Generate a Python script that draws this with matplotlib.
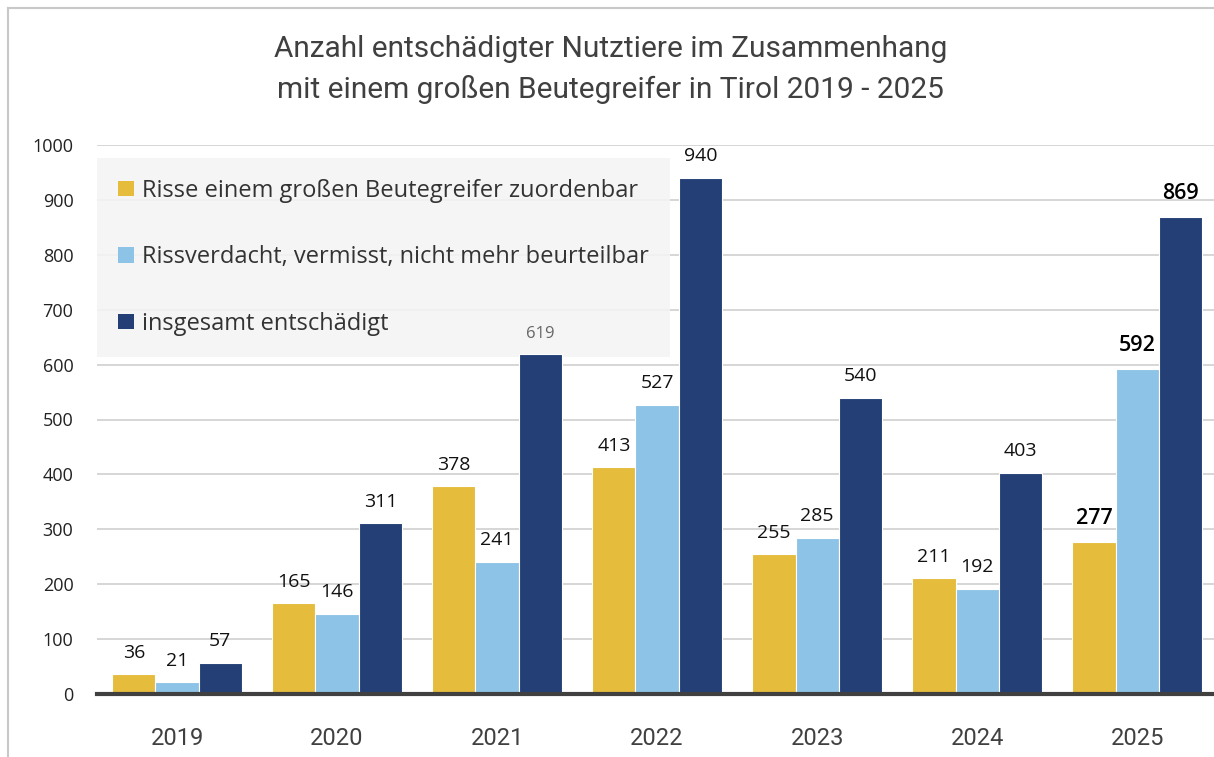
import matplotlib.pyplot as plt
import numpy as np
from matplotlib.patches import Patch

years = ['2019', '2020', '2021', '2022', '2023', '2024', '2025']
zuordenbar = [36, 165, 378, 413, 255, 211, 277]
verdacht = [21, 146, 241, 527, 285, 192, 592]
gesamt = [57, 311, 619, 940, 540, 403, 869]
series_names = ['Risse einem großen Beutegreifer zuordenbar',
                'Rissverdacht, vermisst, nicht mehr beurteilbar',
                'insgesamt entschädigt']
colors = ['#E5BC3C', '#8DC3E6', '#243F76']

plt.rcParams['font.family'] = ['Open Sans', 'DejaVu Sans']
narrow = ['Roboto', 'DejaVu Sans']

fig = plt.figure(figsize=(12.14, 7.57), dpi=100)
ax = fig.add_axes([97 / 1214, 63 / 757, 1 - 97 / 1214, 549 / 757])

x = np.arange(len(years))
w = 0.27
for i, (vals, col) in enumerate(zip([zuordenbar, verdacht, gesamt], colors)):
    bars = ax.bar(x + (i - 1) * w, vals, w, color=col, edgecolor='white',
                  linewidth=0.8, zorder=3)
    for j, (b, v) in enumerate(zip(bars, vals)):
        kw = dict(fontsize=14, color='#111111')
        if j == 2 and i == 2:
            kw = dict(fontsize=12, color='#666666')
        if j == 6:
            kw = dict(fontsize=15.5, color='black', fontweight='semibold')
        ax.annotate(str(v), (b.get_x() + b.get_width() / 2, v),
                    xytext=(0, 9), textcoords='offset points',
                    ha='center', va='bottom', zorder=5, **kw)

ax.set_xlim(-0.5, 6.48)
ax.set_ylim(0, 1000)
ax.set_yticks(range(0, 1001, 100))
ax.set_xticks(x)
ax.set_xticklabels(years, family=narrow, fontsize=17, color='#404040')
ax.tick_params(axis='x', length=0, pad=24)
ax.tick_params(axis='y', length=0, pad=17, labelsize=13, labelcolor='#222222')
ax.grid(axis='y', color='#d0d0d0', linewidth=1.2, zorder=0)
for s in ['top', 'right', 'left']:
    ax.spines[s].set_visible(False)
ax.spines['bottom'].set_color('#404040')
ax.spines['bottom'].set_linewidth(3)
ax.spines['bottom'].set_zorder(4)

handles = [Patch(facecolor=c, edgecolor='none') for c in colors]
leg = ax.legend(handles, series_names, loc='upper left', bbox_to_anchor=(0, 0.977),
                borderaxespad=0, fontsize=17, labelspacing=1.8,
                handlelength=0.65, handleheight=0.65, handletextpad=0.35,
                fancybox=False, facecolor='#f4f4f4', edgecolor='none',
                framealpha=0.88, borderpad=0.9)
for t in leg.get_texts():
    t.set_color('#333333')
leg.set_zorder(2)

fig.text(0.503, 0.908, 'Anzahl entschädigter Nutztiere im Zusammenhang\n'
         'mit einem großen Beutegreifer in Tirol 2019 - 2025',
         ha='center', va='center', fontsize=21.5, color='#404040',
         family=narrow, linespacing=1.5)

fig.add_artist(plt.Line2D([8 / 1214, 8 / 1214], [0, 1 - 8 / 757],
                          color='#c8c8c8', linewidth=1.5))
fig.add_artist(plt.Line2D([8 / 1214, 1], [1 - 8 / 757, 1 - 8 / 757],
                          color='#c8c8c8', linewidth=1.5))

fig.savefig('out.png', dpi=100)
